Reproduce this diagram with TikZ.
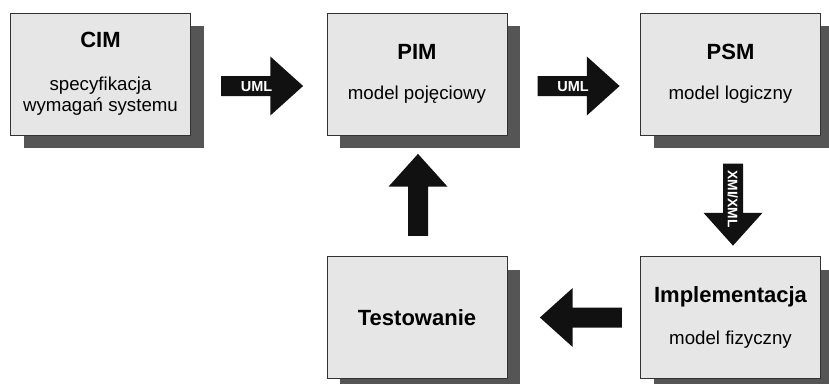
\documentclass[tikz,border=0pt]{standalone}
\usepackage{fontspec}
\setmainfont{Liberation Sans}
\usetikzlibrary{shapes.arrows,shadows,calc}
\definecolor{boxfill}{RGB}{230, 230, 230}
\definecolor{boxline}{RGB}{50, 50, 50}
\definecolor{shadowgray}{RGB}{85, 85, 85}
\definecolor{arrowblack}{RGB}{17, 17, 17}
\newcommand{\titlefont}{\fontsize{22}{26}\selectfont\bfseries}
\newcommand{\bodyfont}{\fontsize{18.7}{21}\selectfont}
\tikzset{
  stage/.style={draw=boxline, line width=0.8pt, fill=boxfill, minimum width=180pt, minimum height=122pt,
    inner sep=0pt, align=center, font=\bodyfont,
    drop shadow={shadow xshift=13pt, shadow yshift=-13pt, fill=shadowgray, opacity=1}},
  blockarrow/.style={single arrow, fill=arrowblack, draw=none, minimum height=82pt, minimum width=0pt,
    single arrow head extend=19.5pt, single arrow tip angle=84, inner xsep=3pt, inner ysep=4.6pt,
    text height=10.4pt, text depth=0pt, text=white, font=\fontsize{14.5}{15}\selectfont\bfseries, anchor=tail}
}
\begin{document}
\begin{tikzpicture}[x=1pt, y=-1pt]
            \useasboundingbox (0,0) rectangle (829,383);
            \node[stage] (cim)  at (100.5, 74.0) {{\titlefont CIM}\\[21.5pt]specyfikacja\\wymagań systemu};
            \node[stage] (pim)  at (417.0, 74.0) {{\titlefont PIM}\\[19.5pt]model pojęciowy};
            \node[stage] (psm)  at (730.5, 74.0) {{\titlefont PSM}\\[19.5pt]model logiczny};
            \node[stage] (test) at (417.0, 317.5) {\titlefont Testowanie};
            \node[stage] (impl) at (730.5, 317.5) {{\titlefont Implementacja}\\[21.5pt]model fizyczny};
            % block arrows between the stages
            \node[blockarrow]              (uml1) at ($(cim.east)+(30,12)$)  {UML};
            \node[blockarrow]              (uml2) at ($(pim.east)+(30,12)$)  {UML};
            \node[blockarrow, rotate=-90, inner xsep=-4pt, font=\fontsize{13.8}{15}\selectfont\bfseries]
                                           (xmi)  at ($(psm.south)+(2.5,28)$) {XMI/XML};
            \node[blockarrow, rotate=180]  (back) at ($(impl.west)+(-18,0)$) {};
            \node[blockarrow, rotate=90]   (up)   at ($(test.north)+(1,-20)$) {};
        \end{tikzpicture}
\end{document}
